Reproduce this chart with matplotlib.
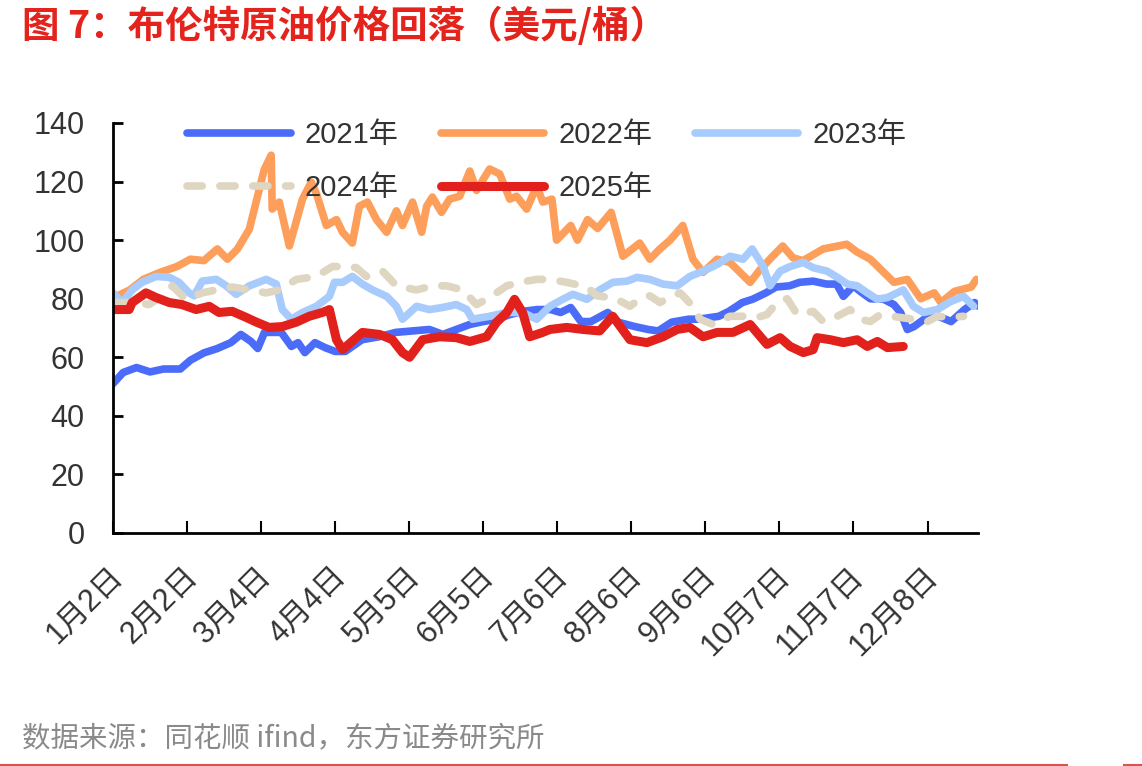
import matplotlib
matplotlib.use("Agg")
import matplotlib.pyplot as plt
from matplotlib.lines import Line2D
from matplotlib.transforms import ScaledTranslation

plt.rcParams['font.family'] = ['Liberation Sans', 'Noto Sans CJK SC', 'DejaVu Sans']

# ---------------- data (trading-day index, Brent price USD/bbl) ----------------
tick_labels = ["1月2日", "2月2日", "3月4日", "4月4日", "5月5日", "6月5日",
               "7月6日", "8月6日", "9月6日", "10月7日", "11月7日", "12月8日"]
series_names = ["2021年", "2022年", "2023年", "2024年", "2025年"]

d2021 = [0, 3, 7, 11, 15, 20, 23, 27, 31, 35, 38, 41, 43, 45, 48, 50, 53, 55, 57, 60, 63, 66, 69,
         74, 79, 84, 89, 94, 98, 102, 106, 110, 114, 118, 122, 126, 130, 133, 136, 139, 142, 147,
         150, 155, 159, 162, 166, 171, 174, 180, 183, 187, 190, 194, 197, 201, 204, 208, 212, 215,
         217, 220, 222, 225, 229, 232, 234, 236, 238, 241, 244, 249, 253, 256, 257]
v2021 = [51, 54.8, 56.5, 55, 56, 56, 59, 61.5, 63, 65, 67.8, 65.4, 63, 68.5, 68.5, 68.5, 63.7, 65,
         61.6, 65, 63.3, 62, 62, 66, 67, 68.5, 69, 69.5, 67.8, 69.5, 71.2, 72.2, 73, 74.6, 75.7,
         76.3, 76.3, 75.3, 77, 72.2, 72.2, 75.3, 72, 70.5, 69.5, 69, 72, 73, 73, 74, 75.7, 78.7,
         79.8, 82, 84, 84.4, 85.6, 86, 85, 85, 80.8, 84.4, 82.5, 80, 79.8, 78, 75.3, 69.5, 70.5,
         73, 74.6, 72.2, 76.3, 78.7, 77.5]

d2022 = [0, 1, 5, 9, 14, 19, 23, 27, 31, 34, 37, 40.5, 44.9, 47, 47.3, 49.4, 52.4, 56.3, 58.9,
         60.4, 63.4, 66.4, 68.2, 71.1, 73.2, 75.6, 78.3, 81.3, 84.2, 86, 89, 91.7, 93.2, 94.9,
         97.6, 100, 103, 106, 108, 111.9, 114.9, 117.9, 119.9, 122.9, 125.9, 127.7, 130.4, 131.8,
         136, 138, 141, 144, 148, 151.5, 156.5, 159.5, 162.5, 165.5, 169.3, 172.3, 175.3, 179.5,
         183.3, 186.3, 189.3, 192.3, 196, 199, 202, 205, 211, 218, 221, 225, 229, 232, 236, 240,
         244, 246, 250, 255, 256.5]
v2022 = [79, 80.8, 83, 86.6, 89, 91, 93.5, 93, 97, 93.5, 97, 103.7, 124, 129, 110.6, 113, 98, 114,
         119.8, 116, 105, 107, 102.7, 99, 111.6, 113, 107, 102.7, 110, 105, 113, 102.7, 111.6,
         114.7, 109.5, 114, 115, 123.6, 117, 124.3, 122.6, 114, 115, 110.6, 118.5, 113, 114, 100,
         105, 100, 107, 104, 109.5, 94.5, 99, 93.5, 97, 100, 105, 93.5, 89, 93.5, 92.4, 89, 85.6,
         90, 94.5, 98, 94, 93, 97, 98.6, 96, 93.5, 89, 85.6, 86.6, 80, 82, 78.7, 82.5, 84, 86.6]

d2023 = [0, 2.7, 5.7, 8.6, 12.8, 16.7, 19.6, 22.6, 24.1, 26.5, 30.7, 33.6, 36.6, 40.5, 45.5, 48.5,
         50.3, 53, 56.3, 60.4, 64.3, 65.8, 68.2, 71.1, 74.1, 77.1, 81.3, 84.2, 86, 90.2, 94, 97.9,
         102, 105.1, 106.8, 111.9, 117, 121.7, 125.9, 129.8, 133.6, 136.6, 140.8, 144.6, 148.5,
         152.7, 155.7, 159.5, 163.4, 167.6, 171.4, 175.3, 179.5, 183.3, 187.2, 189.9, 193.2,
         195.2, 198.2, 201.2, 205.1, 208, 212.2, 215.2, 218.2, 221.1, 224.1, 227.1, 230.1, 233,
         234.8, 237.8, 240.8, 244.9, 248.8, 252.7, 255.7]
v2023 = [82, 78.7, 83, 85.6, 87.6, 87.3, 85.6, 82, 81, 86, 86.6, 84.4, 81.5, 84.4, 86.6, 85, 76.3,
         73, 75.3, 77.4, 80.8, 85.6, 85.6, 87.6, 85, 83, 80.8, 77.4, 73, 77.4, 76.3, 77, 78, 76.3,
         73, 74, 75.3, 75.3, 73, 77.4, 79.8, 81.5, 79.8, 83, 85.6, 86, 87.3, 86.6, 85, 84.4, 87.6,
         89.4, 91.7, 94.5, 93.5, 97, 91, 84.4, 89.4, 91, 92.4, 90.6, 89.4, 87.3, 85, 84.4, 82,
         79.8, 80.4, 82, 83, 77.4, 75.3, 76.3, 79, 80.8, 77.4]

d2024 = [0, 3, 7, 10.7, 15.8, 17.6, 21.7, 26.5, 30.7, 35.4, 40.5, 45.5, 49.4, 54.5, 60.4, 65.2,
         69.3, 72.3, 75.3, 80.1, 84.2, 90.2, 94.9, 99.1, 103.9, 108, 111.9, 117, 120.8, 125.9,
         129.8, 134.8, 140.8, 143.8, 147.6, 149.7, 153.6, 156.5, 159.5, 162.5, 166.4, 168.5,
         172.3, 174.4, 178.3, 183.3, 187.2, 191.4, 194.3, 197.3, 200.3, 203.3, 208, 211, 215.2,
         219, 222, 225, 228, 233.9, 237.8, 242, 244.9, 248.8, 252.7]
v2024 = [78.7, 78.7, 78.7, 78, 82, 84.4, 79.8, 82, 83, 84, 83, 82, 83, 86.6, 87.6, 91, 91, 90.6,
         87.6, 89.4, 84.4, 83, 84.4, 84.4, 83, 78, 80.4, 84.4, 85.6, 86.6, 86.6, 85.6, 84, 81,
         80.4, 79.8, 77.4, 80, 81, 78.7, 81, 82, 77.4, 73, 71.2, 74, 74, 73.6, 74.6, 78.7, 80,
         74.6, 75.7, 72.2, 74, 76.3, 73, 72.2, 74.6, 73.6, 73, 72.2, 74, 73.6, 74]

d2025 = [0, 4.8, 5.7, 9.8, 12.8, 16.7, 20.5, 24.7, 28.6, 31.5, 35.4, 39.6, 42.6, 46.4, 50.3, 54.5,
         58.3, 62.2, 64.3, 66.4, 68.2, 74.1, 79.2, 83, 86, 88.1, 92, 97, 102, 106, 111, 114, 117,
         119.3, 121.7, 123.8, 127.7, 129.8, 134.8, 139.6, 144.6, 148.5, 153.6, 158.6, 163.4,
         167.6, 171.4, 175.3, 179.5, 184.2, 189.3, 194.3, 198.2, 201.2, 205.1, 208, 209.2, 213.1,
         217, 221.1, 224.1, 227.1, 230.1, 234.8]
v2025 = [76.3, 76.3, 78.7, 82, 80.4, 78.7, 78, 76.3, 77.4, 75.3, 75.7, 73.6, 72, 70.2, 70.5, 72,
         74, 75.3, 76.3, 66, 62.6, 68.5, 67.8, 66, 61.6, 60, 66, 67, 66.7, 65.4, 67, 72, 75.3,
         79.8, 75.3, 67, 68.5, 69.5, 70.2, 69.5, 69, 74, 66, 65, 67, 69.5, 70.2, 67, 68.5, 68.5,
         71.2, 64.4, 66.7, 63.7, 61.6, 62.6, 66.7, 66, 65, 66, 63.7, 65.4, 63.3, 63.7]

tick_days = [0, 22, 44, 66, 88, 110, 132, 154, 176, 198, 220, 242]
y_ticks = [0, 20, 40, 60, 80, 100, 120, 140]

# ---------------- styling ----------------
colors = ["#4a6cf8", "#fd9e5b", "#a7cbfd", "#dfd6c2", "#e2211c"]
text_color = "#333333"

fig = plt.figure(figsize=(11.42, 7.66), dpi=100)
ax = fig.add_axes([113 / 1142, 1 - 533 / 766, (978 - 113) / 1142, (533 - 123) / 766])

lw = 5.5
h1, = ax.plot(d2021, v2021, color=colors[0], lw=lw, solid_capstyle='round', solid_joinstyle='round')
h2, = ax.plot(d2022, v2022, color=colors[1], lw=lw, solid_capstyle='round', solid_joinstyle='round')
h3, = ax.plot(d2023, v2023, color=colors[2], lw=lw, solid_capstyle='round', solid_joinstyle='round')
h4, = ax.plot(d2024, v2024, color=colors[3], lw=lw, linestyle=(0, (2.0, 2.3)),
              dash_capstyle='round', dash_joinstyle='round')
h5, = ax.plot(d2025, v2025, color=colors[4], lw=6.5, solid_capstyle='round', solid_joinstyle='round')

ax.set_xlim(0, 257)
ax.set_ylim(0, 140)
ax.set_yticks(y_ticks)
ax.set_xticks(tick_days)

for s in ['top', 'right']:
    ax.spines[s].set_visible(False)
for s in ['left', 'bottom']:
    ax.spines[s].set_linewidth(2.0)
    ax.spines[s].set_color('black')

ax.tick_params(axis='y', direction='in', length=7, width=2, labelsize=22, colors='black',
               labelcolor=text_color, pad=20.5)
ax.tick_params(axis='x', direction='in', length=9, width=1.5, labelsize=22, colors='black',
               labelcolor=text_color, pad=28)
ax.set_xticklabels(tick_labels, rotation=45, ha='right', va='center', rotation_mode='anchor')
shift = ScaledTranslation(6 / 100, 0, fig.dpi_scale_trans)
for lab in ax.get_xticklabels():
    lab.set_transform(lab.get_transform() + shift)

handles = [h1, h4, h2, h5, h3]
labels = [series_names[0], series_names[3], series_names[1], series_names[4], series_names[2]]
leg = fig.legend(handles, labels, ncol=3, frameon=False, loc='upper left',
                 bbox_to_anchor=(187 / 1142, 1 - 121 / 766), fontsize=21,
                 handlelength=3.55, handletextpad=0.48, columnspacing=1.45, labelspacing=0.86,
                 borderpad=0, borderaxespad=0)
for t in leg.get_texts():
    t.set_color(text_color)

fig.text(22 / 1142, 1 - 26 / 766, "图 7：布伦特原油价格回落（美元/桶）", color="#e3231c",
         fontsize=27, fontweight='bold', family=['Noto Sans CJK SC', 'DejaVu Sans'],
         ha='left', va='center')
fig.text(22 / 1142, 1 - 738 / 766, "数据来源：同花顺 ifind，东方证券研究所", color="#8a8a8a",
         fontsize=20.5, family=['Noto Sans CJK SC', 'DejaVu Sans'], ha='left', va='center')

fig.add_artist(Line2D([0, 1067 / 1142], [1 - 765 / 766, 1 - 765 / 766], color="#d9534f", lw=1.5))
fig.add_artist(Line2D([1124 / 1142, 1], [1 - 765 / 766, 1 - 765 / 766], color="#d9534f", lw=1.5))

fig.savefig("out.png", dpi=100)
